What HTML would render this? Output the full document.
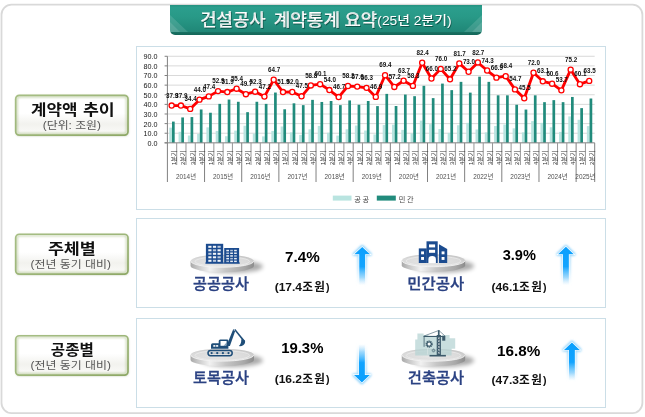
<!DOCTYPE html>
<html lang="ko">
<head>
<meta charset="utf-8">
<title>건설공사 계약통계 요약</title>
<style>
html,body{margin:0;padding:0;background:#fff;}
body{width:645px;height:417px;position:relative;overflow:hidden;font-family:"Liberation Sans","Noto Sans CJK KR",sans-serif;}
.banner{position:absolute;left:170px;top:4.7px;width:312px;height:30px;border-radius:0 0 5px 5px;
 background:linear-gradient(180deg,#24917f 0px,#2b9e8d 2.5px,#289987 12px,#208777 26.8px,#176d5f 27.6px,#15675a 30px);overflow:hidden;}
.banner i{position:absolute;bottom:2.8px;width:0;height:0;}
.banner .tl1{left:0;border-bottom:17.5px solid rgba(255,255,255,.13);border-right:18.5px solid transparent;}
.banner .tl2{left:0;border-bottom:10px solid rgba(255,255,255,.13);border-right:10.5px solid transparent;}
.banner .tr1{right:0;border-bottom:17.5px solid rgba(255,255,255,.13);border-left:18.5px solid transparent;}
.banner .tr2{right:0;border-bottom:10px solid rgba(255,255,255,.13);border-left:10.5px solid transparent;}
.box{position:absolute;left:136px;width:468px;border:1px solid #cbdee7;box-sizing:content-box;background:#fff;}
svg{position:absolute;left:0;top:0;}
svg text{font-family:"Liberation Sans","Noto Sans CJK KR",sans-serif;}
.yl{font-size:7.2px;fill:#151515;}
.ql{font-size:6px;fill:#333;}
.yr{font-size:6.4px;fill:#505050;}
.dl{font-size:6.9px;font-weight:700;fill:#111;}
.lg{font-size:7.2px;fill:#444;letter-spacing:1.7px;}
</style>
</head>
<body>
<svg width="645" height="417" viewBox="0 0 645 417">
<defs>
<filter id="blur0" x="-20%" y="-20%" width="140%" height="140%"><feGaussianBlur stdDeviation="0.8"/></filter>
<linearGradient id="labg" x1="0" y1="0" x2="0" y2="1"><stop offset="0" stop-color="#fff"/><stop offset="0.45" stop-color="#fff"/><stop offset="0.72" stop-color="#f2f2ee"/><stop offset="1" stop-color="#fbfbf9"/></linearGradient>
<linearGradient id="labs" x1="0" y1="0" x2="1" y2="1"><stop offset="0" stop-color="#a6be84"/><stop offset="0.5" stop-color="#9db679"/><stop offset="1" stop-color="#8ea866"/></linearGradient>
</defs>
<rect x="1.5" y="4.7" width="640.9" height="408.4" rx="10" fill="none" stroke="#d9d9d9" stroke-width="1.8"/>
<rect x="16.2" y="96.25" width="112.3" height="39.8" rx="3.6" fill="#5a6e3c" opacity="0.28" filter="url(#blur0)"/>
<rect x="15.7" y="95.35" width="112.3" height="39.8" rx="3.6" fill="url(#labg)"/>
<rect x="17.0" y="96.64999999999999" width="109.7" height="37.199999999999996" rx="2.6" fill="none" stroke="#8fac64" stroke-opacity="0.55" stroke-width="1.6" filter="url(#blur0)"/>
<rect x="15.7" y="95.35" width="112.3" height="39.8" rx="3.6" fill="none" stroke="url(#labs)" stroke-width="1.7"/><rect x="16.2" y="235.15" width="112.3" height="39.9" rx="3.6" fill="#5a6e3c" opacity="0.28" filter="url(#blur0)"/>
<rect x="15.7" y="234.25" width="112.3" height="39.9" rx="3.6" fill="url(#labg)"/>
<rect x="17.0" y="235.55" width="109.7" height="37.3" rx="2.6" fill="none" stroke="#8fac64" stroke-opacity="0.55" stroke-width="1.6" filter="url(#blur0)"/>
<rect x="15.7" y="234.25" width="112.3" height="39.9" rx="3.6" fill="none" stroke="url(#labs)" stroke-width="1.7"/><rect x="16.2" y="336.65" width="112.3" height="39.4" rx="3.6" fill="#5a6e3c" opacity="0.28" filter="url(#blur0)"/>
<rect x="15.7" y="335.75" width="112.3" height="39.4" rx="3.6" fill="url(#labg)"/>
<rect x="17.0" y="337.05" width="109.7" height="36.8" rx="2.6" fill="none" stroke="#8fac64" stroke-opacity="0.55" stroke-width="1.6" filter="url(#blur0)"/>
<rect x="15.7" y="335.75" width="112.3" height="39.4" rx="3.6" fill="none" stroke="url(#labs)" stroke-width="1.7"/>
</svg>
<div class="banner"><i class="tl1"></i><i class="tl2"></i><i class="tr1"></i><i class="tr2"></i></div>


<div class="box" style="top:46px;height:162px"></div>
<div class="box" style="top:218px;height:88px"></div>
<div class="box" style="top:318px;height:88px"></div>

<svg width="645" height="417" viewBox="0 0 645 417">
<line x1="167.4" y1="133.23" x2="594.7" y2="133.23" stroke="#d9d9d9" stroke-width="1"/>
<line x1="167.4" y1="123.61" x2="594.7" y2="123.61" stroke="#d9d9d9" stroke-width="1"/>
<line x1="167.4" y1="113.99" x2="594.7" y2="113.99" stroke="#d9d9d9" stroke-width="1"/>
<line x1="167.4" y1="104.37" x2="594.7" y2="104.37" stroke="#d9d9d9" stroke-width="1"/>
<line x1="167.4" y1="94.75" x2="594.7" y2="94.75" stroke="#d9d9d9" stroke-width="1"/>
<line x1="167.4" y1="85.13" x2="594.7" y2="85.13" stroke="#d9d9d9" stroke-width="1"/>
<line x1="167.4" y1="75.51" x2="594.7" y2="75.51" stroke="#d9d9d9" stroke-width="1"/>
<line x1="167.4" y1="65.89" x2="594.7" y2="65.89" stroke="#d9d9d9" stroke-width="1"/>
<line x1="167.4" y1="56.27" x2="594.7" y2="56.27" stroke="#d9d9d9" stroke-width="1"/>
<rect x="169.29" y="127.65" width="2.7" height="15.20" fill="#b9e4e0"/>
<rect x="171.99" y="121.59" width="2.7" height="21.26" fill="#218b7c"/>
<rect x="178.57" y="131.79" width="2.7" height="11.06" fill="#b9e4e0"/>
<rect x="181.27" y="117.45" width="2.7" height="25.40" fill="#218b7c"/>
<rect x="187.85" y="135.54" width="2.7" height="7.31" fill="#b9e4e0"/>
<rect x="190.55" y="117.07" width="2.7" height="25.78" fill="#218b7c"/>
<rect x="197.13" y="133.90" width="2.7" height="8.95" fill="#b9e4e0"/>
<rect x="199.83" y="109.47" width="2.7" height="33.38" fill="#218b7c"/>
<rect x="206.41" y="127.36" width="2.7" height="15.49" fill="#b9e4e0"/>
<rect x="209.11" y="112.74" width="2.7" height="30.11" fill="#218b7c"/>
<rect x="215.69" y="130.92" width="2.7" height="11.93" fill="#b9e4e0"/>
<rect x="218.39" y="103.89" width="2.7" height="38.96" fill="#218b7c"/>
<rect x="224.97" y="136.21" width="2.7" height="6.64" fill="#b9e4e0"/>
<rect x="227.67" y="99.56" width="2.7" height="43.29" fill="#218b7c"/>
<rect x="234.25" y="130.63" width="2.7" height="12.22" fill="#b9e4e0"/>
<rect x="236.95" y="101.77" width="2.7" height="41.08" fill="#218b7c"/>
<rect x="243.52" y="125.73" width="2.7" height="17.12" fill="#b9e4e0"/>
<rect x="246.22" y="112.16" width="2.7" height="30.69" fill="#218b7c"/>
<rect x="252.80" y="133.61" width="2.7" height="9.24" fill="#b9e4e0"/>
<rect x="255.50" y="101.77" width="2.7" height="41.08" fill="#218b7c"/>
<rect x="262.08" y="136.40" width="2.7" height="6.45" fill="#b9e4e0"/>
<rect x="264.78" y="103.89" width="2.7" height="38.96" fill="#218b7c"/>
<rect x="271.36" y="130.92" width="2.7" height="11.93" fill="#b9e4e0"/>
<rect x="274.06" y="92.54" width="2.7" height="50.31" fill="#218b7c"/>
<rect x="280.64" y="126.50" width="2.7" height="16.35" fill="#b9e4e0"/>
<rect x="283.34" y="109.28" width="2.7" height="33.57" fill="#218b7c"/>
<rect x="289.92" y="132.36" width="2.7" height="10.49" fill="#b9e4e0"/>
<rect x="292.62" y="103.31" width="2.7" height="39.54" fill="#218b7c"/>
<rect x="299.20" y="134.87" width="2.7" height="7.98" fill="#b9e4e0"/>
<rect x="301.90" y="105.14" width="2.7" height="37.71" fill="#218b7c"/>
<rect x="308.48" y="129.29" width="2.7" height="13.56" fill="#b9e4e0"/>
<rect x="311.18" y="99.85" width="2.7" height="43.00" fill="#218b7c"/>
<rect x="317.76" y="125.92" width="2.7" height="16.93" fill="#b9e4e0"/>
<rect x="320.46" y="101.97" width="2.7" height="40.88" fill="#218b7c"/>
<rect x="327.04" y="132.75" width="2.7" height="10.10" fill="#b9e4e0"/>
<rect x="329.74" y="101.00" width="2.7" height="41.85" fill="#218b7c"/>
<rect x="336.32" y="135.63" width="2.7" height="7.22" fill="#b9e4e0"/>
<rect x="339.02" y="105.14" width="2.7" height="37.71" fill="#218b7c"/>
<rect x="345.60" y="129.29" width="2.7" height="13.56" fill="#b9e4e0"/>
<rect x="348.30" y="100.43" width="2.7" height="42.42" fill="#218b7c"/>
<rect x="354.88" y="125.53" width="2.7" height="17.32" fill="#b9e4e0"/>
<rect x="357.58" y="104.75" width="2.7" height="38.10" fill="#218b7c"/>
<rect x="364.16" y="130.54" width="2.7" height="12.31" fill="#b9e4e0"/>
<rect x="366.86" y="101.00" width="2.7" height="41.85" fill="#218b7c"/>
<rect x="373.44" y="134.48" width="2.7" height="8.37" fill="#b9e4e0"/>
<rect x="376.14" y="106.10" width="2.7" height="36.75" fill="#218b7c"/>
<rect x="382.71" y="125.05" width="2.7" height="17.80" fill="#b9e4e0"/>
<rect x="385.41" y="93.88" width="2.7" height="48.97" fill="#218b7c"/>
<rect x="391.99" y="124.67" width="2.7" height="18.18" fill="#b9e4e0"/>
<rect x="394.69" y="106.01" width="2.7" height="36.84" fill="#218b7c"/>
<rect x="401.27" y="129.86" width="2.7" height="12.99" fill="#b9e4e0"/>
<rect x="403.97" y="94.56" width="2.7" height="48.29" fill="#218b7c"/>
<rect x="410.55" y="133.42" width="2.7" height="9.43" fill="#b9e4e0"/>
<rect x="413.25" y="96.19" width="2.7" height="46.66" fill="#218b7c"/>
<rect x="419.83" y="120.63" width="2.7" height="22.22" fill="#b9e4e0"/>
<rect x="422.53" y="85.80" width="2.7" height="57.05" fill="#218b7c"/>
<rect x="429.11" y="124.09" width="2.7" height="18.76" fill="#b9e4e0"/>
<rect x="431.81" y="98.12" width="2.7" height="44.73" fill="#218b7c"/>
<rect x="438.39" y="129.00" width="2.7" height="13.85" fill="#b9e4e0"/>
<rect x="441.09" y="83.59" width="2.7" height="59.26" fill="#218b7c"/>
<rect x="447.67" y="132.85" width="2.7" height="10.00" fill="#b9e4e0"/>
<rect x="450.37" y="90.13" width="2.7" height="52.72" fill="#218b7c"/>
<rect x="456.95" y="125.25" width="2.7" height="17.60" fill="#b9e4e0"/>
<rect x="459.65" y="81.86" width="2.7" height="60.99" fill="#218b7c"/>
<rect x="466.23" y="122.84" width="2.7" height="20.01" fill="#b9e4e0"/>
<rect x="468.93" y="92.63" width="2.7" height="50.22" fill="#218b7c"/>
<rect x="475.51" y="129.48" width="2.7" height="13.37" fill="#b9e4e0"/>
<rect x="478.21" y="76.66" width="2.7" height="66.19" fill="#218b7c"/>
<rect x="484.79" y="132.36" width="2.7" height="10.49" fill="#b9e4e0"/>
<rect x="487.49" y="81.86" width="2.7" height="60.99" fill="#218b7c"/>
<rect x="494.07" y="126.01" width="2.7" height="16.84" fill="#b9e4e0"/>
<rect x="496.77" y="95.33" width="2.7" height="47.52" fill="#218b7c"/>
<rect x="503.35" y="124.57" width="2.7" height="18.28" fill="#b9e4e0"/>
<rect x="506.05" y="95.33" width="2.7" height="47.52" fill="#218b7c"/>
<rect x="512.63" y="128.32" width="2.7" height="14.53" fill="#b9e4e0"/>
<rect x="515.33" y="104.75" width="2.7" height="38.10" fill="#218b7c"/>
<rect x="521.90" y="132.36" width="2.7" height="10.49" fill="#b9e4e0"/>
<rect x="524.60" y="109.56" width="2.7" height="33.29" fill="#218b7c"/>
<rect x="531.18" y="121.11" width="2.7" height="21.74" fill="#b9e4e0"/>
<rect x="533.88" y="95.33" width="2.7" height="47.52" fill="#218b7c"/>
<rect x="540.46" y="122.84" width="2.7" height="20.01" fill="#b9e4e0"/>
<rect x="543.16" y="102.16" width="2.7" height="40.69" fill="#218b7c"/>
<rect x="549.74" y="127.27" width="2.7" height="15.58" fill="#b9e4e0"/>
<rect x="552.44" y="100.14" width="2.7" height="42.71" fill="#218b7c"/>
<rect x="559.02" y="131.88" width="2.7" height="10.97" fill="#b9e4e0"/>
<rect x="561.72" y="102.16" width="2.7" height="40.69" fill="#218b7c"/>
<rect x="568.30" y="116.39" width="2.7" height="26.45" fill="#b9e4e0"/>
<rect x="571.00" y="96.96" width="2.7" height="45.89" fill="#218b7c"/>
<rect x="577.58" y="119.76" width="2.7" height="23.09" fill="#b9e4e0"/>
<rect x="580.28" y="108.12" width="2.7" height="34.73" fill="#218b7c"/>
<rect x="586.86" y="126.11" width="2.7" height="16.74" fill="#b9e4e0"/>
<rect x="589.56" y="98.50" width="2.7" height="44.35" fill="#218b7c"/>
<line x1="167.4" y1="56.27" x2="167.4" y2="142.85" stroke="#808080" stroke-width="1"/>
<line x1="164.6" y1="142.85" x2="594.7" y2="142.85" stroke="#808080" stroke-width="1"/>
<line x1="164.6" y1="142.85" x2="167.4" y2="142.85" stroke="#808080" stroke-width="1"/>
<text x="157.4" y="145.75" text-anchor="end" class="yl">0.0</text>
<line x1="164.6" y1="133.23" x2="167.4" y2="133.23" stroke="#808080" stroke-width="1"/>
<text x="157.4" y="136.13" text-anchor="end" class="yl">10.0</text>
<line x1="164.6" y1="123.61" x2="167.4" y2="123.61" stroke="#808080" stroke-width="1"/>
<text x="157.4" y="126.51" text-anchor="end" class="yl">20.0</text>
<line x1="164.6" y1="113.99" x2="167.4" y2="113.99" stroke="#808080" stroke-width="1"/>
<text x="157.4" y="116.89" text-anchor="end" class="yl">30.0</text>
<line x1="164.6" y1="104.37" x2="167.4" y2="104.37" stroke="#808080" stroke-width="1"/>
<text x="157.4" y="107.27" text-anchor="end" class="yl">40.0</text>
<line x1="164.6" y1="94.75" x2="167.4" y2="94.75" stroke="#808080" stroke-width="1"/>
<text x="157.4" y="97.65" text-anchor="end" class="yl">50.0</text>
<line x1="164.6" y1="85.13" x2="167.4" y2="85.13" stroke="#808080" stroke-width="1"/>
<text x="157.4" y="88.03" text-anchor="end" class="yl">60.0</text>
<line x1="164.6" y1="75.51" x2="167.4" y2="75.51" stroke="#808080" stroke-width="1"/>
<text x="157.4" y="78.41" text-anchor="end" class="yl">70.0</text>
<line x1="164.6" y1="65.89" x2="167.4" y2="65.89" stroke="#808080" stroke-width="1"/>
<text x="157.4" y="68.79" text-anchor="end" class="yl">80.0</text>
<line x1="164.6" y1="56.27" x2="167.4" y2="56.27" stroke="#808080" stroke-width="1"/>
<text x="157.4" y="59.17" text-anchor="end" class="yl">90.0</text>
<line x1="167.40" y1="142.85" x2="167.40" y2="182" stroke="#808080" stroke-width="1"/>
<line x1="176.69" y1="142.85" x2="176.69" y2="165" stroke="#969696" stroke-width="1"/>
<line x1="185.98" y1="142.85" x2="185.98" y2="165" stroke="#969696" stroke-width="1"/>
<line x1="195.27" y1="142.85" x2="195.27" y2="165" stroke="#969696" stroke-width="1"/>
<line x1="204.56" y1="142.85" x2="204.56" y2="182" stroke="#808080" stroke-width="1"/>
<line x1="213.85" y1="142.85" x2="213.85" y2="165" stroke="#969696" stroke-width="1"/>
<line x1="223.13" y1="142.85" x2="223.13" y2="165" stroke="#969696" stroke-width="1"/>
<line x1="232.42" y1="142.85" x2="232.42" y2="165" stroke="#969696" stroke-width="1"/>
<line x1="241.71" y1="142.85" x2="241.71" y2="182" stroke="#808080" stroke-width="1"/>
<line x1="251.00" y1="142.85" x2="251.00" y2="165" stroke="#969696" stroke-width="1"/>
<line x1="260.29" y1="142.85" x2="260.29" y2="165" stroke="#969696" stroke-width="1"/>
<line x1="269.58" y1="142.85" x2="269.58" y2="165" stroke="#969696" stroke-width="1"/>
<line x1="278.87" y1="142.85" x2="278.87" y2="182" stroke="#808080" stroke-width="1"/>
<line x1="288.16" y1="142.85" x2="288.16" y2="165" stroke="#969696" stroke-width="1"/>
<line x1="297.45" y1="142.85" x2="297.45" y2="165" stroke="#969696" stroke-width="1"/>
<line x1="306.74" y1="142.85" x2="306.74" y2="165" stroke="#969696" stroke-width="1"/>
<line x1="316.03" y1="142.85" x2="316.03" y2="182" stroke="#808080" stroke-width="1"/>
<line x1="325.32" y1="142.85" x2="325.32" y2="165" stroke="#969696" stroke-width="1"/>
<line x1="334.60" y1="142.85" x2="334.60" y2="165" stroke="#969696" stroke-width="1"/>
<line x1="343.89" y1="142.85" x2="343.89" y2="165" stroke="#969696" stroke-width="1"/>
<line x1="353.18" y1="142.85" x2="353.18" y2="182" stroke="#808080" stroke-width="1"/>
<line x1="362.47" y1="142.85" x2="362.47" y2="165" stroke="#969696" stroke-width="1"/>
<line x1="371.76" y1="142.85" x2="371.76" y2="165" stroke="#969696" stroke-width="1"/>
<line x1="381.05" y1="142.85" x2="381.05" y2="165" stroke="#969696" stroke-width="1"/>
<line x1="390.34" y1="142.85" x2="390.34" y2="182" stroke="#808080" stroke-width="1"/>
<line x1="399.63" y1="142.85" x2="399.63" y2="165" stroke="#969696" stroke-width="1"/>
<line x1="408.92" y1="142.85" x2="408.92" y2="165" stroke="#969696" stroke-width="1"/>
<line x1="418.21" y1="142.85" x2="418.21" y2="165" stroke="#969696" stroke-width="1"/>
<line x1="427.50" y1="142.85" x2="427.50" y2="182" stroke="#808080" stroke-width="1"/>
<line x1="436.78" y1="142.85" x2="436.78" y2="165" stroke="#969696" stroke-width="1"/>
<line x1="446.07" y1="142.85" x2="446.07" y2="165" stroke="#969696" stroke-width="1"/>
<line x1="455.36" y1="142.85" x2="455.36" y2="165" stroke="#969696" stroke-width="1"/>
<line x1="464.65" y1="142.85" x2="464.65" y2="182" stroke="#808080" stroke-width="1"/>
<line x1="473.94" y1="142.85" x2="473.94" y2="165" stroke="#969696" stroke-width="1"/>
<line x1="483.23" y1="142.85" x2="483.23" y2="165" stroke="#969696" stroke-width="1"/>
<line x1="492.52" y1="142.85" x2="492.52" y2="165" stroke="#969696" stroke-width="1"/>
<line x1="501.81" y1="142.85" x2="501.81" y2="182" stroke="#808080" stroke-width="1"/>
<line x1="511.10" y1="142.85" x2="511.10" y2="165" stroke="#969696" stroke-width="1"/>
<line x1="520.39" y1="142.85" x2="520.39" y2="165" stroke="#969696" stroke-width="1"/>
<line x1="529.68" y1="142.85" x2="529.68" y2="165" stroke="#969696" stroke-width="1"/>
<line x1="538.97" y1="142.85" x2="538.97" y2="182" stroke="#808080" stroke-width="1"/>
<line x1="548.25" y1="142.85" x2="548.25" y2="165" stroke="#969696" stroke-width="1"/>
<line x1="557.54" y1="142.85" x2="557.54" y2="165" stroke="#969696" stroke-width="1"/>
<line x1="566.83" y1="142.85" x2="566.83" y2="165" stroke="#969696" stroke-width="1"/>
<line x1="576.12" y1="142.85" x2="576.12" y2="182" stroke="#808080" stroke-width="1"/>
<line x1="585.41" y1="142.85" x2="585.41" y2="165" stroke="#969696" stroke-width="1"/>
<line x1="594.70" y1="142.85" x2="594.70" y2="182" stroke="#808080" stroke-width="1"/>
<text class="ql" transform="translate(176.09,165) rotate(-90)">1분기</text>
<text class="ql" transform="translate(185.37,165) rotate(-90)">2분기</text>
<text class="ql" transform="translate(194.65,165) rotate(-90)">3분기</text>
<text class="ql" transform="translate(203.93,165) rotate(-90)">4분기</text>
<text class="ql" transform="translate(213.21,165) rotate(-90)">1분기</text>
<text class="ql" transform="translate(222.49,165) rotate(-90)">2분기</text>
<text class="ql" transform="translate(231.77,165) rotate(-90)">3분기</text>
<text class="ql" transform="translate(241.05,165) rotate(-90)">4분기</text>
<text class="ql" transform="translate(250.32,165) rotate(-90)">1분기</text>
<text class="ql" transform="translate(259.60,165) rotate(-90)">2분기</text>
<text class="ql" transform="translate(268.88,165) rotate(-90)">3분기</text>
<text class="ql" transform="translate(278.16,165) rotate(-90)">4분기</text>
<text class="ql" transform="translate(287.44,165) rotate(-90)">1분기</text>
<text class="ql" transform="translate(296.72,165) rotate(-90)">2분기</text>
<text class="ql" transform="translate(306.00,165) rotate(-90)">3분기</text>
<text class="ql" transform="translate(315.28,165) rotate(-90)">4분기</text>
<text class="ql" transform="translate(324.56,165) rotate(-90)">1분기</text>
<text class="ql" transform="translate(333.84,165) rotate(-90)">2분기</text>
<text class="ql" transform="translate(343.12,165) rotate(-90)">3분기</text>
<text class="ql" transform="translate(352.40,165) rotate(-90)">4분기</text>
<text class="ql" transform="translate(361.68,165) rotate(-90)">1분기</text>
<text class="ql" transform="translate(370.96,165) rotate(-90)">2분기</text>
<text class="ql" transform="translate(380.24,165) rotate(-90)">3분기</text>
<text class="ql" transform="translate(389.51,165) rotate(-90)">4분기</text>
<text class="ql" transform="translate(398.79,165) rotate(-90)">1분기</text>
<text class="ql" transform="translate(408.07,165) rotate(-90)">2분기</text>
<text class="ql" transform="translate(417.35,165) rotate(-90)">3분기</text>
<text class="ql" transform="translate(426.63,165) rotate(-90)">4분기</text>
<text class="ql" transform="translate(435.91,165) rotate(-90)">1분기</text>
<text class="ql" transform="translate(445.19,165) rotate(-90)">2분기</text>
<text class="ql" transform="translate(454.47,165) rotate(-90)">3분기</text>
<text class="ql" transform="translate(463.75,165) rotate(-90)">4분기</text>
<text class="ql" transform="translate(473.03,165) rotate(-90)">1분기</text>
<text class="ql" transform="translate(482.31,165) rotate(-90)">2분기</text>
<text class="ql" transform="translate(491.59,165) rotate(-90)">3분기</text>
<text class="ql" transform="translate(500.87,165) rotate(-90)">4분기</text>
<text class="ql" transform="translate(510.15,165) rotate(-90)">1분기</text>
<text class="ql" transform="translate(519.43,165) rotate(-90)">2분기</text>
<text class="ql" transform="translate(528.70,165) rotate(-90)">3분기</text>
<text class="ql" transform="translate(537.98,165) rotate(-90)">4분기</text>
<text class="ql" transform="translate(547.26,165) rotate(-90)">1분기</text>
<text class="ql" transform="translate(556.54,165) rotate(-90)">2분기</text>
<text class="ql" transform="translate(565.82,165) rotate(-90)">3분기</text>
<text class="ql" transform="translate(575.10,165) rotate(-90)">4분기</text>
<text class="ql" transform="translate(584.38,165) rotate(-90)">1분기</text>
<text class="ql" transform="translate(593.66,165) rotate(-90)">2분기</text>
<text class="yr" x="185.98" y="179" text-anchor="middle">2014년</text>
<text class="yr" x="223.13" y="179" text-anchor="middle">2015년</text>
<text class="yr" x="260.29" y="179" text-anchor="middle">2016년</text>
<text class="yr" x="297.45" y="179" text-anchor="middle">2017년</text>
<text class="yr" x="334.60" y="179" text-anchor="middle">2018년</text>
<text class="yr" x="371.76" y="179" text-anchor="middle">2019년</text>
<text class="yr" x="408.92" y="179" text-anchor="middle">2020년</text>
<text class="yr" x="446.07" y="179" text-anchor="middle">2021년</text>
<text class="yr" x="483.23" y="179" text-anchor="middle">2022년</text>
<text class="yr" x="520.39" y="179" text-anchor="middle">2023년</text>
<text class="yr" x="557.54" y="179" text-anchor="middle">2024년</text>
<text class="yr" x="585.41" y="179" text-anchor="middle">2025년</text>
<polyline points="171.64,105.54 180.92,105.54 190.20,108.91 199.48,99.67 208.76,96.40 218.04,91.11 227.32,92.07 236.60,88.71 245.87,94.19 255.15,91.69 264.43,96.59 273.71,79.76 282.99,92.07 292.27,91.98 301.55,96.31 310.83,85.43 320.11,84.18 329.39,90.05 338.67,97.07 347.95,86.01 357.23,86.59 366.51,87.84 375.79,96.88 385.06,75.24 394.34,86.97 403.62,80.72 412.90,85.92 422.18,62.73 431.46,78.51 440.74,68.89 450.02,79.28 459.30,63.40 468.58,71.77 477.86,62.44 487.14,70.52 496.42,77.64 505.70,76.20 514.98,89.38 524.25,98.23 533.53,72.74 542.81,81.30 552.09,83.70 561.37,90.34 570.65,69.66 579.93,84.18 589.21,80.91" fill="none" stroke="#ff0000" stroke-width="2.8" stroke-linejoin="round"/>
<circle cx="171.64" cy="105.54" r="2.55" fill="#fff" stroke="#ff0000" stroke-width="1.3"/>
<circle cx="180.92" cy="105.54" r="2.55" fill="#fff" stroke="#ff0000" stroke-width="1.3"/>
<circle cx="190.20" cy="108.91" r="2.55" fill="#fff" stroke="#ff0000" stroke-width="1.3"/>
<circle cx="199.48" cy="99.67" r="2.55" fill="#fff" stroke="#ff0000" stroke-width="1.3"/>
<circle cx="208.76" cy="96.40" r="2.55" fill="#fff" stroke="#ff0000" stroke-width="1.3"/>
<circle cx="218.04" cy="91.11" r="2.55" fill="#fff" stroke="#ff0000" stroke-width="1.3"/>
<circle cx="227.32" cy="92.07" r="2.55" fill="#fff" stroke="#ff0000" stroke-width="1.3"/>
<circle cx="236.60" cy="88.71" r="2.55" fill="#fff" stroke="#ff0000" stroke-width="1.3"/>
<circle cx="245.87" cy="94.19" r="2.55" fill="#fff" stroke="#ff0000" stroke-width="1.3"/>
<circle cx="255.15" cy="91.69" r="2.55" fill="#fff" stroke="#ff0000" stroke-width="1.3"/>
<circle cx="264.43" cy="96.59" r="2.55" fill="#fff" stroke="#ff0000" stroke-width="1.3"/>
<circle cx="273.71" cy="79.76" r="2.55" fill="#fff" stroke="#ff0000" stroke-width="1.3"/>
<circle cx="282.99" cy="92.07" r="2.55" fill="#fff" stroke="#ff0000" stroke-width="1.3"/>
<circle cx="292.27" cy="91.98" r="2.55" fill="#fff" stroke="#ff0000" stroke-width="1.3"/>
<circle cx="301.55" cy="96.31" r="2.55" fill="#fff" stroke="#ff0000" stroke-width="1.3"/>
<circle cx="310.83" cy="85.43" r="2.55" fill="#fff" stroke="#ff0000" stroke-width="1.3"/>
<circle cx="320.11" cy="84.18" r="2.55" fill="#fff" stroke="#ff0000" stroke-width="1.3"/>
<circle cx="329.39" cy="90.05" r="2.55" fill="#fff" stroke="#ff0000" stroke-width="1.3"/>
<circle cx="338.67" cy="97.07" r="2.55" fill="#fff" stroke="#ff0000" stroke-width="1.3"/>
<circle cx="347.95" cy="86.01" r="2.55" fill="#fff" stroke="#ff0000" stroke-width="1.3"/>
<circle cx="357.23" cy="86.59" r="2.55" fill="#fff" stroke="#ff0000" stroke-width="1.3"/>
<circle cx="366.51" cy="87.84" r="2.55" fill="#fff" stroke="#ff0000" stroke-width="1.3"/>
<circle cx="375.79" cy="96.88" r="2.55" fill="#fff" stroke="#ff0000" stroke-width="1.3"/>
<circle cx="385.06" cy="75.24" r="2.55" fill="#fff" stroke="#ff0000" stroke-width="1.3"/>
<circle cx="394.34" cy="86.97" r="2.55" fill="#fff" stroke="#ff0000" stroke-width="1.3"/>
<circle cx="403.62" cy="80.72" r="2.55" fill="#fff" stroke="#ff0000" stroke-width="1.3"/>
<circle cx="412.90" cy="85.92" r="2.55" fill="#fff" stroke="#ff0000" stroke-width="1.3"/>
<circle cx="422.18" cy="62.73" r="2.55" fill="#fff" stroke="#ff0000" stroke-width="1.3"/>
<circle cx="431.46" cy="78.51" r="2.55" fill="#fff" stroke="#ff0000" stroke-width="1.3"/>
<circle cx="440.74" cy="68.89" r="2.55" fill="#fff" stroke="#ff0000" stroke-width="1.3"/>
<circle cx="450.02" cy="79.28" r="2.55" fill="#fff" stroke="#ff0000" stroke-width="1.3"/>
<circle cx="459.30" cy="63.40" r="2.55" fill="#fff" stroke="#ff0000" stroke-width="1.3"/>
<circle cx="468.58" cy="71.77" r="2.55" fill="#fff" stroke="#ff0000" stroke-width="1.3"/>
<circle cx="477.86" cy="62.44" r="2.55" fill="#fff" stroke="#ff0000" stroke-width="1.3"/>
<circle cx="487.14" cy="70.52" r="2.55" fill="#fff" stroke="#ff0000" stroke-width="1.3"/>
<circle cx="496.42" cy="77.64" r="2.55" fill="#fff" stroke="#ff0000" stroke-width="1.3"/>
<circle cx="505.70" cy="76.20" r="2.55" fill="#fff" stroke="#ff0000" stroke-width="1.3"/>
<circle cx="514.98" cy="89.38" r="2.55" fill="#fff" stroke="#ff0000" stroke-width="1.3"/>
<circle cx="524.25" cy="98.23" r="2.55" fill="#fff" stroke="#ff0000" stroke-width="1.3"/>
<circle cx="533.53" cy="72.74" r="2.55" fill="#fff" stroke="#ff0000" stroke-width="1.3"/>
<circle cx="542.81" cy="81.30" r="2.55" fill="#fff" stroke="#ff0000" stroke-width="1.3"/>
<circle cx="552.09" cy="83.70" r="2.55" fill="#fff" stroke="#ff0000" stroke-width="1.3"/>
<circle cx="561.37" cy="90.34" r="2.55" fill="#fff" stroke="#ff0000" stroke-width="1.3"/>
<circle cx="570.65" cy="69.66" r="2.55" fill="#fff" stroke="#ff0000" stroke-width="1.3"/>
<circle cx="579.93" cy="84.18" r="2.55" fill="#fff" stroke="#ff0000" stroke-width="1.3"/>
<circle cx="589.21" cy="80.91" r="2.55" fill="#fff" stroke="#ff0000" stroke-width="1.3"/>
<text class="dl" x="165.94" y="97.64" textLength="12.2" lengthAdjust="spacingAndGlyphs">37.9</text>
<text class="dl" x="175.22" y="97.64" textLength="12.2" lengthAdjust="spacingAndGlyphs">37.9</text>
<text class="dl" x="184.50" y="101.01" textLength="12.2" lengthAdjust="spacingAndGlyphs">34.4</text>
<text class="dl" x="193.78" y="91.77" textLength="12.2" lengthAdjust="spacingAndGlyphs">44.0</text>
<text class="dl" x="203.06" y="88.50" textLength="12.2" lengthAdjust="spacingAndGlyphs">47.4</text>
<text class="dl" x="212.34" y="83.21" textLength="12.2" lengthAdjust="spacingAndGlyphs">52.9</text>
<text class="dl" x="221.62" y="84.17" textLength="12.2" lengthAdjust="spacingAndGlyphs">51.9</text>
<text class="dl" x="230.90" y="80.81" textLength="12.2" lengthAdjust="spacingAndGlyphs">55.4</text>
<text class="dl" x="240.17" y="86.29" textLength="12.2" lengthAdjust="spacingAndGlyphs">49.7</text>
<text class="dl" x="249.45" y="83.79" textLength="12.2" lengthAdjust="spacingAndGlyphs">52.3</text>
<text class="dl" x="258.73" y="88.69" textLength="12.2" lengthAdjust="spacingAndGlyphs">47.2</text>
<text class="dl" x="268.01" y="71.86" textLength="12.2" lengthAdjust="spacingAndGlyphs">64.7</text>
<text class="dl" x="277.29" y="84.17" textLength="12.2" lengthAdjust="spacingAndGlyphs">51.9</text>
<text class="dl" x="286.57" y="84.08" textLength="12.2" lengthAdjust="spacingAndGlyphs">52.0</text>
<text class="dl" x="295.85" y="88.41" textLength="12.2" lengthAdjust="spacingAndGlyphs">47.5</text>
<text class="dl" x="305.13" y="77.53" textLength="12.2" lengthAdjust="spacingAndGlyphs">58.8</text>
<text class="dl" x="314.41" y="76.28" textLength="12.2" lengthAdjust="spacingAndGlyphs">60.1</text>
<text class="dl" x="323.69" y="82.15" textLength="12.2" lengthAdjust="spacingAndGlyphs">54.0</text>
<text class="dl" x="332.97" y="89.17" textLength="12.2" lengthAdjust="spacingAndGlyphs">46.7</text>
<text class="dl" x="342.25" y="78.11" textLength="12.2" lengthAdjust="spacingAndGlyphs">58.2</text>
<text class="dl" x="351.53" y="78.69" textLength="12.2" lengthAdjust="spacingAndGlyphs">57.6</text>
<text class="dl" x="360.81" y="79.94" textLength="12.2" lengthAdjust="spacingAndGlyphs">56.3</text>
<text class="dl" x="370.09" y="88.98" textLength="12.2" lengthAdjust="spacingAndGlyphs">46.9</text>
<text class="dl" x="379.36" y="67.34" textLength="12.2" lengthAdjust="spacingAndGlyphs">69.4</text>
<text class="dl" x="388.64" y="79.07" textLength="12.2" lengthAdjust="spacingAndGlyphs">57.2</text>
<text class="dl" x="397.92" y="72.82" textLength="12.2" lengthAdjust="spacingAndGlyphs">63.7</text>
<text class="dl" x="407.20" y="78.02" textLength="12.2" lengthAdjust="spacingAndGlyphs">58.3</text>
<text class="dl" x="416.48" y="54.83" textLength="12.2" lengthAdjust="spacingAndGlyphs">82.4</text>
<text class="dl" x="425.76" y="70.61" textLength="12.2" lengthAdjust="spacingAndGlyphs">66.0</text>
<text class="dl" x="435.04" y="60.99" textLength="12.2" lengthAdjust="spacingAndGlyphs">76.0</text>
<text class="dl" x="444.32" y="71.38" textLength="12.2" lengthAdjust="spacingAndGlyphs">65.2</text>
<text class="dl" x="453.60" y="55.50" textLength="12.2" lengthAdjust="spacingAndGlyphs">81.7</text>
<text class="dl" x="462.88" y="63.87" textLength="12.2" lengthAdjust="spacingAndGlyphs">73.0</text>
<text class="dl" x="472.16" y="54.54" textLength="12.2" lengthAdjust="spacingAndGlyphs">82.7</text>
<text class="dl" x="481.44" y="62.62" textLength="12.2" lengthAdjust="spacingAndGlyphs">74.3</text>
<text class="dl" x="490.72" y="69.74" textLength="12.2" lengthAdjust="spacingAndGlyphs">66.9</text>
<text class="dl" x="500.00" y="68.30" textLength="12.2" lengthAdjust="spacingAndGlyphs">68.4</text>
<text class="dl" x="509.28" y="81.48" textLength="12.2" lengthAdjust="spacingAndGlyphs">54.7</text>
<text class="dl" x="518.55" y="90.33" textLength="12.2" lengthAdjust="spacingAndGlyphs">45.5</text>
<text class="dl" x="527.83" y="64.84" textLength="12.2" lengthAdjust="spacingAndGlyphs">72.0</text>
<text class="dl" x="537.11" y="73.40" textLength="12.2" lengthAdjust="spacingAndGlyphs">63.1</text>
<text class="dl" x="546.39" y="75.80" textLength="12.2" lengthAdjust="spacingAndGlyphs">60.6</text>
<text class="dl" x="555.67" y="82.44" textLength="12.2" lengthAdjust="spacingAndGlyphs">53.7</text>
<text class="dl" x="564.95" y="61.76" textLength="12.2" lengthAdjust="spacingAndGlyphs">75.2</text>
<text class="dl" x="574.23" y="76.28" textLength="12.2" lengthAdjust="spacingAndGlyphs">60.1</text>
<text class="dl" x="583.51" y="73.01" textLength="12.2" lengthAdjust="spacingAndGlyphs">63.5</text>
<rect x="332.8" y="195.6" width="18.7" height="5" fill="#b9e4e0"/>
<text class="lg" x="354.2" y="201.7">공공</text>
<rect x="376.8" y="195.6" width="19" height="5" fill="#218b7c"/>
<text class="lg" x="398.8" y="201.7">민간</text>
</svg>
<svg width="645" height="417" viewBox="0 0 645 417">
<defs><filter id="blur1" x="-50%" y="-50%" width="200%" height="200%"><feGaussianBlur stdDeviation="1.2"/></filter><filter id="blur2" x="-50%" y="-50%" width="200%" height="200%"><feGaussianBlur stdDeviation="2.2"/></filter></defs>
<defs>
<linearGradient id="psa" x1="0" y1="0" x2="1" y2="0"><stop offset="0" stop-color="#a9a9a9"/><stop offset="0.1" stop-color="#c4c4c4"/><stop offset="0.3" stop-color="#f1f1f1"/><stop offset="0.55" stop-color="#c6c6c6"/><stop offset="0.85" stop-color="#a8a8a8"/><stop offset="1" stop-color="#8c8c8c"/></linearGradient>
<radialGradient id="pta" cx="0.45" cy="0.6" r="0.6"><stop offset="0" stop-color="#e6e6e6"/><stop offset="0.75" stop-color="#dadada"/><stop offset="1" stop-color="#c4c4c4"/></radialGradient>
</defs>
<ellipse cx="232.25" cy="266.5" rx="30.7" ry="6.5" fill="#000" opacity="0.33" filter="url(#blur2)"/>
<path d="M190.55,261.0 L190.55,266.0 A31.7,6.2 0 0 0 253.95,266.0 L253.95,261.0 Z" fill="url(#psa)"/>
<ellipse cx="222.25" cy="261.0" rx="31.7" ry="6.2" fill="url(#pta)"/>
<path d="M190.85000000000002,261.2 A31.4,6.0 0 0 0 253.64999999999998,261.2" fill="none" stroke="#f6f6f6" stroke-width="0.9" opacity="0.95"/>
<ellipse cx="222.25" cy="261.5" rx="27.2" ry="4.7" fill="none" stroke="#efefef" stroke-width="0.8" opacity="0.85"/>
<defs>
<linearGradient id="psb" x1="0" y1="0" x2="1" y2="0"><stop offset="0" stop-color="#a9a9a9"/><stop offset="0.1" stop-color="#c4c4c4"/><stop offset="0.3" stop-color="#f1f1f1"/><stop offset="0.55" stop-color="#c6c6c6"/><stop offset="0.85" stop-color="#a8a8a8"/><stop offset="1" stop-color="#8c8c8c"/></linearGradient>
<radialGradient id="ptb" cx="0.45" cy="0.6" r="0.6"><stop offset="0" stop-color="#e6e6e6"/><stop offset="0.75" stop-color="#dadada"/><stop offset="1" stop-color="#c4c4c4"/></radialGradient>
</defs>
<ellipse cx="443.45" cy="266.0" rx="30.7" ry="6.5" fill="#000" opacity="0.33" filter="url(#blur2)"/>
<path d="M401.75,260.5 L401.75,265.5 A31.7,6.2 0 0 0 465.15,265.5 L465.15,260.5 Z" fill="url(#psb)"/>
<ellipse cx="433.45" cy="260.5" rx="31.7" ry="6.2" fill="url(#ptb)"/>
<path d="M402.05,260.7 A31.4,6.0 0 0 0 464.84999999999997,260.7" fill="none" stroke="#f6f6f6" stroke-width="0.9" opacity="0.95"/>
<ellipse cx="433.45" cy="261.0" rx="27.2" ry="4.7" fill="none" stroke="#efefef" stroke-width="0.8" opacity="0.85"/>
<defs>
<linearGradient id="psc" x1="0" y1="0" x2="1" y2="0"><stop offset="0" stop-color="#a9a9a9"/><stop offset="0.1" stop-color="#c4c4c4"/><stop offset="0.3" stop-color="#f1f1f1"/><stop offset="0.55" stop-color="#c6c6c6"/><stop offset="0.85" stop-color="#a8a8a8"/><stop offset="1" stop-color="#8c8c8c"/></linearGradient>
<radialGradient id="ptc" cx="0.45" cy="0.6" r="0.6"><stop offset="0" stop-color="#e6e6e6"/><stop offset="0.75" stop-color="#dadada"/><stop offset="1" stop-color="#c4c4c4"/></radialGradient>
</defs>
<ellipse cx="232.25" cy="360.4" rx="30.7" ry="6.5" fill="#000" opacity="0.33" filter="url(#blur2)"/>
<path d="M190.55,354.9 L190.55,359.9 A31.7,6.2 0 0 0 253.95,359.9 L253.95,354.9 Z" fill="url(#psc)"/>
<ellipse cx="222.25" cy="354.9" rx="31.7" ry="6.2" fill="url(#ptc)"/>
<path d="M190.85000000000002,355.09999999999997 A31.4,6.0 0 0 0 253.64999999999998,355.09999999999997" fill="none" stroke="#f6f6f6" stroke-width="0.9" opacity="0.95"/>
<ellipse cx="222.25" cy="355.4" rx="27.2" ry="4.7" fill="none" stroke="#efefef" stroke-width="0.8" opacity="0.85"/>
<defs>
<linearGradient id="psd" x1="0" y1="0" x2="1" y2="0"><stop offset="0" stop-color="#a9a9a9"/><stop offset="0.1" stop-color="#c4c4c4"/><stop offset="0.3" stop-color="#f1f1f1"/><stop offset="0.55" stop-color="#c6c6c6"/><stop offset="0.85" stop-color="#a8a8a8"/><stop offset="1" stop-color="#8c8c8c"/></linearGradient>
<radialGradient id="ptd" cx="0.45" cy="0.6" r="0.6"><stop offset="0" stop-color="#e6e6e6"/><stop offset="0.75" stop-color="#dadada"/><stop offset="1" stop-color="#c4c4c4"/></radialGradient>
</defs>
<ellipse cx="443.45" cy="360.5" rx="30.7" ry="6.5" fill="#000" opacity="0.33" filter="url(#blur2)"/>
<path d="M401.75,355.0 L401.75,360.0 A31.7,6.2 0 0 0 465.15,360.0 L465.15,355.0 Z" fill="url(#psd)"/>
<ellipse cx="433.45" cy="355.0" rx="31.7" ry="6.2" fill="url(#ptd)"/>
<path d="M402.05,355.2 A31.4,6.0 0 0 0 464.84999999999997,355.2" fill="none" stroke="#f6f6f6" stroke-width="0.9" opacity="0.95"/>
<ellipse cx="433.45" cy="355.5" rx="27.2" ry="4.7" fill="none" stroke="#efefef" stroke-width="0.8" opacity="0.85"/>
<rect x="205.9" y="243.79999999999998" width="17.3" height="19.6" fill="#1b4b8f"/>
<rect x="224.20000000000002" y="247.99999999999997" width="14.9" height="15.4" fill="#1b4b8f"/>
<rect x="205.3" y="262.5" width="34.6" height="1.1" fill="#1b4b8f"/>
<rect x="208.30" y="245.80" width="3.2" height="2" fill="#fff" opacity="0.95"/>
<rect x="212.90" y="245.80" width="3.2" height="2" fill="#fff" opacity="0.95"/>
<rect x="217.50" y="245.80" width="3.2" height="2" fill="#fff" opacity="0.7"/>
<rect x="208.30" y="249.30" width="3.2" height="2" fill="#fff" opacity="0.95"/>
<rect x="212.90" y="249.30" width="3.2" height="2" fill="#fff" opacity="0.7"/>
<rect x="217.50" y="249.30" width="3.2" height="2" fill="#fff" opacity="0.95"/>
<rect x="208.30" y="252.80" width="3.2" height="2" fill="#fff" opacity="0.7"/>
<rect x="212.90" y="252.80" width="3.2" height="2" fill="#fff" opacity="0.95"/>
<rect x="217.50" y="252.80" width="3.2" height="2" fill="#fff" opacity="0.95"/>
<rect x="208.30" y="256.30" width="3.2" height="2" fill="#fff" opacity="0.95"/>
<rect x="212.90" y="256.30" width="3.2" height="2" fill="#fff" opacity="0.95"/>
<rect x="217.50" y="256.30" width="3.2" height="2" fill="#fff" opacity="0.7"/>
<rect x="208.30" y="259.80" width="3.2" height="2" fill="#fff" opacity="0.95"/>
<rect x="212.90" y="259.80" width="3.2" height="2" fill="#fff" opacity="0.7"/>
<rect x="217.50" y="259.80" width="3.2" height="2" fill="#fff" opacity="0.95"/>
<rect x="226.30" y="249.80" width="2.7" height="1.5" fill="#fff" opacity="0.9"/>
<rect x="230.20" y="249.80" width="2.7" height="1.5" fill="#fff" opacity="0.65"/>
<rect x="234.10" y="249.80" width="2.7" height="1.5" fill="#fff" opacity="0.9"/>
<rect x="226.30" y="252.50" width="2.7" height="1.5" fill="#fff" opacity="0.65"/>
<rect x="230.20" y="252.50" width="2.7" height="1.5" fill="#fff" opacity="0.9"/>
<rect x="234.10" y="252.50" width="2.7" height="1.5" fill="#fff" opacity="0.9"/>
<rect x="226.30" y="255.20" width="2.7" height="1.5" fill="#fff" opacity="0.9"/>
<rect x="230.20" y="255.20" width="2.7" height="1.5" fill="#fff" opacity="0.9"/>
<rect x="234.10" y="255.20" width="2.7" height="1.5" fill="#fff" opacity="0.65"/>
<rect x="226.30" y="257.90" width="2.7" height="1.5" fill="#fff" opacity="0.9"/>
<rect x="230.20" y="257.90" width="2.7" height="1.5" fill="#fff" opacity="0.65"/>
<rect x="234.10" y="257.90" width="2.7" height="1.5" fill="#fff" opacity="0.9"/>
<rect x="226.30" y="260.60" width="2.7" height="1.5" fill="#fff" opacity="0.65"/>
<rect x="230.20" y="260.60" width="2.7" height="1.5" fill="#fff" opacity="0.9"/>
<rect x="234.10" y="260.60" width="2.7" height="1.5" fill="#fff" opacity="0.9"/>
<rect x="418.8" y="248.4" width="8" height="14.6" fill="#1b4b8f"/>
<rect x="426.5" y="241.3" width="11.2" height="21.7" fill="#1b4b8f"/>
<path d="M439.0,263 L439.0,244.2 L447.2,249 L447.2,263 Z" fill="#1b4b8f"/>
<rect x="421.1" y="251.4" width="2.9" height="2.9" fill="#fff"/>
<rect x="421.1" y="257" width="2.9" height="2.9" fill="#fff"/>
<rect x="429.0" y="244.4" width="6.1" height="3" fill="#fff"/>
<rect x="429.0" y="249.8" width="6.1" height="3" fill="#fff"/>
<path d="M428.40000000000003,263 L428.40000000000003,259.4 A3.75,3.3 0 0 1 435.90000000000003,259.4 L435.90000000000003,263 Z" fill="#fff"/>
<rect x="441.6" y="251.4" width="2.9" height="2.9" fill="#fff"/>
<rect x="441.6" y="257" width="2.9" height="2.9" fill="#fff"/>
<g transform="translate(0,0)"><rect x="208" y="350.5" width="24.2" height="5.2" rx="2.6" fill="none" stroke="#1f4e79" stroke-width="1.5"/>
<circle cx="211.60" cy="353.1" r="1.15" fill="#1f4e79"/>
<circle cx="217.25" cy="353.1" r="1.15" fill="#1f4e79"/>
<circle cx="222.90" cy="353.1" r="1.15" fill="#1f4e79"/>
<circle cx="228.55" cy="353.1" r="1.15" fill="#1f4e79"/>
<rect x="211.6" y="352.8" width="17" height="0.6" fill="#1f4e79" opacity="0.45"/>
<path d="M211,348.8 L211,345 Q211,343.3 212.7,343.3 L218.7,343.3 L218.7,341 Q218.7,339.4 220.3,339.4 L227,339.4 Q228.4,339.4 228.4,340.8 L228.4,348.8 Z" fill="#1f4e79"/>
<path d="M220.5,341 L226.6,341 L226.6,345.8 L220.5,345.8 Z" fill="#fff"/>
<path d="M223.6,345.8 L226.6,342.6 L226.6,345.8 Z" fill="#1f4e79" opacity="0.55"/>
<rect x="213.3" y="345" width="2.1" height="1.8" fill="#fff" opacity="0.9"/>
<rect x="216.1" y="345" width="2.1" height="1.8" fill="#fff" opacity="0.9"/>
<path d="M226.4,346 L229.9,346 L235.5,330.3 L234.5,328.9 L233.1,329.5 Z" fill="#1f4e79"/>
<path d="M233.8,329.6 L235.3,328.9 L244.3,339.9 L242.9,341 Z" fill="#1f4e79"/>
<circle cx="234.4" cy="329.9" r="0.7" fill="#fff"/>
<path d="M241.2,339.2 L245,340.3 Q245.6,343.6 243.2,345.2 Q241,346.5 238.8,346 Q241.7,343.4 241.2,339.2 Z" fill="#1f4e79"/></g>
<path d="M415.2,355.5 L415.2,339.4 L417.4,339.4 L417.4,333.4 L423.6,333.4 L423.6,335 L428.4,335 L428.4,336.4 L442,336.4 L442,335 L449.6,335 L449.6,338.2 L455.2,338.2 L455.2,348.8 L451.6,348.8 L451.6,355.5 Z" fill="#b4d2d2" opacity="0.72"/>
<rect x="436.7" y="335" width="4.2" height="20" fill="#3c5a6b"/>
<path d="M437.9,339.10 L439.8,337.40 M437.9,337.40 L439.8,339.10" stroke="#fff" stroke-width="0.55" fill="none" opacity="0.95"/>
<path d="M437.9,342.00 L439.8,340.30 M437.9,340.30 L439.8,342.00" stroke="#fff" stroke-width="0.55" fill="none" opacity="0.95"/>
<path d="M437.9,344.90 L439.8,343.20 M437.9,343.20 L439.8,344.90" stroke="#fff" stroke-width="0.55" fill="none" opacity="0.95"/>
<path d="M437.9,347.80 L439.8,346.10 M437.9,346.10 L439.8,347.80" stroke="#fff" stroke-width="0.55" fill="none" opacity="0.95"/>
<path d="M437.9,350.70 L439.8,349.00 M437.9,349.00 L439.8,350.70" stroke="#fff" stroke-width="0.55" fill="none" opacity="0.95"/>
<path d="M437.9,353.60 L439.8,351.90 M437.9,351.90 L439.8,353.60" stroke="#fff" stroke-width="0.55" fill="none" opacity="0.95"/>
<path d="M437.9,335.2 L437.9,330.2 L439.6,330.2 L439.6,335.2 Z" fill="#3c5a6b"/>
<rect x="423.5" y="335.9" width="21.8" height="1.1" fill="#3c5a6b"/>
<path d="M438.7,330.5 L424,336 M438.9,330.5 L445,336" stroke="#3c5a6b" stroke-width="0.6" fill="none"/>
<rect x="442.2" y="336.8" width="3.1" height="3.9" fill="#3c5a6b"/>
<path d="M424.1,336.5 L424.1,346.8" stroke="#3c5a6b" stroke-width="0.8" fill="none"/>
<path d="M427.6,347 L427.6,354.6" stroke="#dfeaea" stroke-width="0.6" fill="none"/>
<rect x="429.5" y="354.9" width="16.4" height="1.6" fill="#3c5a6b"/>
<circle cx="429.1" cy="344.1" r="2.9" fill="none" stroke="#3c5a6b" stroke-width="1.5" stroke-dasharray="1.15 0.67"/>
<circle cx="429.1" cy="344.1" r="2.1" fill="none" stroke="#3c5a6b" stroke-width="1.2"/>
<circle cx="429.1" cy="344.1" r="1.4" fill="#fff" opacity="0.9"/>
<circle cx="433.5" cy="350.5" r="1.5" fill="none" stroke="#3c5a6b" stroke-width="1" stroke-dasharray="0.7 0.48" opacity="0.75"/>
<circle cx="433.5" cy="350.5" r="0.9" fill="none" stroke="#3c5a6b" stroke-width="0.6" opacity="0.75"/>
<defs>
<linearGradient id="ga" gradientUnits="userSpaceOnUse" x1="0" y1="246.6" x2="0" y2="285.1">
<stop offset="0" stop-color="#0a9ffd" stop-opacity="1"/><stop offset="0.52" stop-color="#12a4ff" stop-opacity="1"/><stop offset="0.8" stop-color="#4db9fb" stop-opacity="0.55"/><stop offset="1" stop-color="#aadcfb" stop-opacity="0"/>
</linearGradient>
<linearGradient id="ha" gradientUnits="userSpaceOnUse" x1="0" y1="246.6" x2="0" y2="285.1">
<stop offset="0" stop-color="#7ccbfa" stop-opacity="0.9"/><stop offset="0.6" stop-color="#9dd8fb" stop-opacity="0.6"/><stop offset="1" stop-color="#c8e9fd" stop-opacity="0"/>
</linearGradient>
<linearGradient id="wa" gradientUnits="userSpaceOnUse" x1="0" y1="246.6" x2="0" y2="285.1">
<stop offset="0" stop-color="#fff" stop-opacity="1"/><stop offset="0.8" stop-color="#fff" stop-opacity="0.9"/><stop offset="1" stop-color="#fff" stop-opacity="0"/>
</linearGradient>
</defs>
<path d="M362.2,246.9 L370.09999999999997,254.29999999999998 L365.15,254.29999999999998 L365.15,285.1 L359.25,285.1 L359.25,254.29999999999998 L354.3,254.29999999999998 Z" fill="url(#ha)" stroke="url(#ha)" stroke-width="3.6" stroke-linejoin="round" filter="url(#blur1)"/>
<path d="M362.2,246.9 L370.09999999999997,254.29999999999998 L365.15,254.29999999999998 L365.15,285.1 L359.25,285.1 L359.25,254.29999999999998 L354.3,254.29999999999998 Z" fill="url(#wa)" stroke="url(#wa)" stroke-width="1.4" stroke-linejoin="miter"/>
<path d="M362.2,246.9 L370.09999999999997,254.29999999999998 L365.15,254.29999999999998 L365.15,285.1 L359.25,285.1 L359.25,254.29999999999998 L354.3,254.29999999999998 Z" fill="url(#ga)"/>
<defs>
<linearGradient id="gb" gradientUnits="userSpaceOnUse" x1="0" y1="246.5" x2="0" y2="285.0">
<stop offset="0" stop-color="#0a9ffd" stop-opacity="1"/><stop offset="0.52" stop-color="#12a4ff" stop-opacity="1"/><stop offset="0.8" stop-color="#4db9fb" stop-opacity="0.55"/><stop offset="1" stop-color="#aadcfb" stop-opacity="0"/>
</linearGradient>
<linearGradient id="hb" gradientUnits="userSpaceOnUse" x1="0" y1="246.5" x2="0" y2="285.0">
<stop offset="0" stop-color="#7ccbfa" stop-opacity="0.9"/><stop offset="0.6" stop-color="#9dd8fb" stop-opacity="0.6"/><stop offset="1" stop-color="#c8e9fd" stop-opacity="0"/>
</linearGradient>
<linearGradient id="wb" gradientUnits="userSpaceOnUse" x1="0" y1="246.5" x2="0" y2="285.0">
<stop offset="0" stop-color="#fff" stop-opacity="1"/><stop offset="0.8" stop-color="#fff" stop-opacity="0.9"/><stop offset="1" stop-color="#fff" stop-opacity="0"/>
</linearGradient>
</defs>
<path d="M565.9,246.8 L573.8,254.2 L568.85,254.2 L568.85,285.0 L562.9499999999999,285.0 L562.9499999999999,254.2 L558.0,254.2 Z" fill="url(#hb)" stroke="url(#hb)" stroke-width="3.6" stroke-linejoin="round" filter="url(#blur1)"/>
<path d="M565.9,246.8 L573.8,254.2 L568.85,254.2 L568.85,285.0 L562.9499999999999,285.0 L562.9499999999999,254.2 L558.0,254.2 Z" fill="url(#wb)" stroke="url(#wb)" stroke-width="1.4" stroke-linejoin="miter"/>
<path d="M565.9,246.8 L573.8,254.2 L568.85,254.2 L568.85,285.0 L562.9499999999999,285.0 L562.9499999999999,254.2 L558.0,254.2 Z" fill="url(#gb)"/>
<defs>
<linearGradient id="gc" gradientUnits="userSpaceOnUse" x1="0" y1="382.7" x2="0" y2="344.2">
<stop offset="0" stop-color="#0a9ffd" stop-opacity="1"/><stop offset="0.52" stop-color="#12a4ff" stop-opacity="1"/><stop offset="0.8" stop-color="#4db9fb" stop-opacity="0.55"/><stop offset="1" stop-color="#aadcfb" stop-opacity="0"/>
</linearGradient>
<linearGradient id="hc" gradientUnits="userSpaceOnUse" x1="0" y1="382.7" x2="0" y2="344.2">
<stop offset="0" stop-color="#7ccbfa" stop-opacity="0.9"/><stop offset="0.6" stop-color="#9dd8fb" stop-opacity="0.6"/><stop offset="1" stop-color="#c8e9fd" stop-opacity="0"/>
</linearGradient>
<linearGradient id="wc" gradientUnits="userSpaceOnUse" x1="0" y1="382.7" x2="0" y2="344.2">
<stop offset="0" stop-color="#fff" stop-opacity="1"/><stop offset="0.8" stop-color="#fff" stop-opacity="0.9"/><stop offset="1" stop-color="#fff" stop-opacity="0"/>
</linearGradient>
</defs>
<path d="M361.9,382.4 L369.79999999999995,375.0 L364.84999999999997,375.0 L364.84999999999997,344.2 L358.95,344.2 L358.95,375.0 L354.0,375.0 Z" fill="url(#hc)" stroke="url(#hc)" stroke-width="3.6" stroke-linejoin="round" filter="url(#blur1)"/>
<path d="M361.9,382.4 L369.79999999999995,375.0 L364.84999999999997,375.0 L364.84999999999997,344.2 L358.95,344.2 L358.95,375.0 L354.0,375.0 Z" fill="url(#wc)" stroke="url(#wc)" stroke-width="1.4" stroke-linejoin="miter"/>
<path d="M361.9,382.4 L369.79999999999995,375.0 L364.84999999999997,375.0 L364.84999999999997,344.2 L358.95,344.2 L358.95,375.0 L354.0,375.0 Z" fill="url(#gc)"/>
<defs>
<linearGradient id="gd" gradientUnits="userSpaceOnUse" x1="0" y1="342.2" x2="0" y2="380.7">
<stop offset="0" stop-color="#0a9ffd" stop-opacity="1"/><stop offset="0.52" stop-color="#12a4ff" stop-opacity="1"/><stop offset="0.8" stop-color="#4db9fb" stop-opacity="0.55"/><stop offset="1" stop-color="#aadcfb" stop-opacity="0"/>
</linearGradient>
<linearGradient id="hd" gradientUnits="userSpaceOnUse" x1="0" y1="342.2" x2="0" y2="380.7">
<stop offset="0" stop-color="#7ccbfa" stop-opacity="0.9"/><stop offset="0.6" stop-color="#9dd8fb" stop-opacity="0.6"/><stop offset="1" stop-color="#c8e9fd" stop-opacity="0"/>
</linearGradient>
<linearGradient id="wd" gradientUnits="userSpaceOnUse" x1="0" y1="342.2" x2="0" y2="380.7">
<stop offset="0" stop-color="#fff" stop-opacity="1"/><stop offset="0.8" stop-color="#fff" stop-opacity="0.9"/><stop offset="1" stop-color="#fff" stop-opacity="0"/>
</linearGradient>
</defs>
<path d="M571.9,342.5 L579.8,349.9 L574.85,349.9 L574.85,380.7 L568.9499999999999,380.7 L568.9499999999999,349.9 L564.0,349.9 Z" fill="url(#hd)" stroke="url(#hd)" stroke-width="3.6" stroke-linejoin="round" filter="url(#blur1)"/>
<path d="M571.9,342.5 L579.8,349.9 L574.85,349.9 L574.85,380.7 L568.9499999999999,380.7 L568.9499999999999,349.9 L564.0,349.9 Z" fill="url(#wd)" stroke="url(#wd)" stroke-width="1.4" stroke-linejoin="miter"/>
<path d="M571.9,342.5 L579.8,349.9 L574.85,349.9 L574.85,380.7 L568.9499999999999,380.7 L568.9499999999999,349.9 L564.0,349.9 Z" fill="url(#gd)"/>
<text style="text-shadow:0.8px 0.8px 0.6px rgba(0,40,35,.55)" stroke="#fff" stroke-width="0.2" x="200.20" y="26.20" font-size="17.60" font-weight="500" fill="#fff" textLength="65.50" lengthAdjust="spacingAndGlyphs">건설공사</text>
<text style="text-shadow:0.8px 0.8px 0.6px rgba(0,40,35,.55)" stroke="#fff" stroke-width="0.2" x="273.70" y="26.20" font-size="17.60" font-weight="500" fill="#fff" textLength="66.36" lengthAdjust="spacingAndGlyphs">계약통계</text>
<text style="text-shadow:0.8px 0.8px 0.6px rgba(0,40,35,.55)" stroke="#fff" stroke-width="0.2" x="344.45" y="26.20" font-size="17.60" font-weight="500" fill="#fff" textLength="32.56" lengthAdjust="spacingAndGlyphs">요약</text>
<text style="text-shadow:0.8px 0.8px 0.6px rgba(0,40,35,.55)" x="377.35" y="25.20" font-size="12.00" font-weight="500" fill="#fff" textLength="74.19" lengthAdjust="spacingAndGlyphs">(25년 2분기)</text>
<text x="31.00" y="115.37" font-size="15.00" font-weight="700" fill="#111" textLength="46.38" lengthAdjust="spacingAndGlyphs">계약액</text>
<text x="82.95" y="115.25" font-size="15.00" font-weight="700" fill="#111" textLength="31.80" lengthAdjust="spacingAndGlyphs">추이</text>
<text x="42.80" y="129.13" font-size="10.00" font-weight="400" fill="#555" textLength="58.19" lengthAdjust="spacingAndGlyphs">(단위: 조원)</text>
<text x="47.90" y="254.42" font-size="15.00" font-weight="700" fill="#111" textLength="47.96" lengthAdjust="spacingAndGlyphs">주체별</text>
<text x="30.60" y="268.18" font-size="10.00" font-weight="400" fill="#555" textLength="80.41" lengthAdjust="spacingAndGlyphs">(전년 동기 대비)</text>
<text x="50.80" y="355.37" font-size="15.00" font-weight="700" fill="#111" textLength="43.03" lengthAdjust="spacingAndGlyphs">공종별</text>
<text x="30.60" y="369.38" font-size="10.00" font-weight="400" fill="#555" textLength="80.41" lengthAdjust="spacingAndGlyphs">(전년 동기 대비)</text>
<text stroke="#2b4283" stroke-width="0.3" x="193.10" y="289.12" font-size="15.00" font-weight="500" fill="#2b4283" textLength="55.96" lengthAdjust="spacingAndGlyphs">공공공사</text>
<text x="285.10" y="262.27" font-size="14.50" font-weight="700" fill="#000" textLength="34.66" lengthAdjust="spacingAndGlyphs">7.4%</text>
<text y="290.87" font-size="10.60" font-weight="700" fill="#111"><tspan x="274.65" textLength="27.4" lengthAdjust="spacingAndGlyphs">(17.4</tspan><tspan x="302.15" font-size="11.6">조</tspan><tspan x="314.25" font-size="11.6">원</tspan><tspan x="325.95">)</tspan></text>
<text stroke="#2b4283" stroke-width="0.3" x="407.35" y="289.03" font-size="15.00" font-weight="500" fill="#2b4283" textLength="56.82" lengthAdjust="spacingAndGlyphs">민간공사</text>
<text x="502.70" y="259.68" font-size="14.50" font-weight="700" fill="#000" textLength="33.23" lengthAdjust="spacingAndGlyphs">3.9%</text>
<text y="290.78" font-size="10.60" font-weight="700" fill="#111"><tspan x="491.60" textLength="27.4" lengthAdjust="spacingAndGlyphs">(46.1</tspan><tspan x="519.10" font-size="11.6">조</tspan><tspan x="531.20" font-size="11.6">원</tspan><tspan x="542.90">)</tspan></text>
<text stroke="#2b4283" stroke-width="0.3" x="193.10" y="383.28" font-size="15.00" font-weight="500" fill="#2b4283" textLength="55.96" lengthAdjust="spacingAndGlyphs">토목공사</text>
<text x="281.20" y="352.77" font-size="14.50" font-weight="700" fill="#000" textLength="42.20" lengthAdjust="spacingAndGlyphs">19.3%</text>
<text y="383.07" font-size="10.60" font-weight="700" fill="#111"><tspan x="274.65" textLength="27.4" lengthAdjust="spacingAndGlyphs">(16.2</tspan><tspan x="302.15" font-size="11.6">조</tspan><tspan x="314.25" font-size="11.6">원</tspan><tspan x="325.95">)</tspan></text>
<text stroke="#2b4283" stroke-width="0.3" x="407.85" y="383.28" font-size="15.00" font-weight="500" fill="#2b4283" textLength="56.34" lengthAdjust="spacingAndGlyphs">건축공사</text>
<text x="497.05" y="355.52" font-size="14.50" font-weight="700" fill="#000" textLength="43.20" lengthAdjust="spacingAndGlyphs">16.8%</text>
<text y="383.77" font-size="10.60" font-weight="700" fill="#111"><tspan x="491.60" textLength="27.4" lengthAdjust="spacingAndGlyphs">(47.3</tspan><tspan x="519.10" font-size="11.6">조</tspan><tspan x="531.20" font-size="11.6">원</tspan><tspan x="542.90">)</tspan></text>
</svg>


</body>
</html>
